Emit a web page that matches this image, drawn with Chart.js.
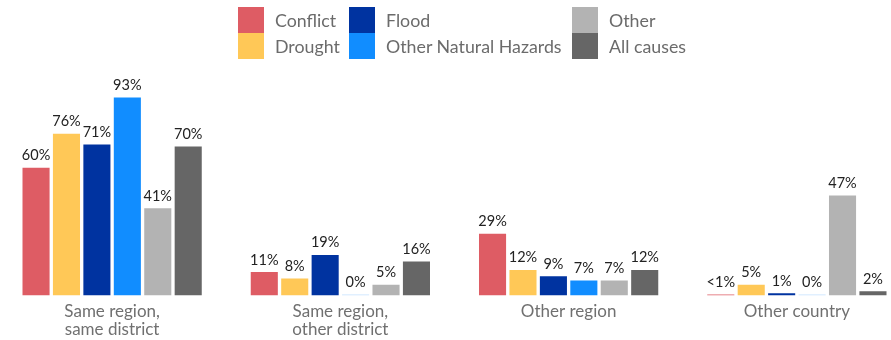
<!DOCTYPE html>
<html>
<head>
<meta charset="utf-8">
<script src="https://cdn.jsdelivr.net/npm/chart.js@4/dist/chart.umd.min.js"></script>
<style>
  html, body { margin: 0; padding: 0; background: #fff; overflow: hidden; }
  body { width: 891px; height: 340px; position: relative; font-family: Lato, "Open Sans", sans-serif; }
  #wrap { position: absolute; left: -2px; top: 0; width: 913px; height: 340px; }
  #legend { position: absolute; left: 0; top: 0; width: 891px; height: 70px; }
  .item { position: absolute; height: 26px; line-height: 26px; font-size: 17.8px; color: #6b6b6b; white-space: nowrap; }
  .item .sw { position: absolute; left: 0; top: 0; width: 26px; height: 26px; }
  .item .tx { position: absolute; left: 37px; top: 0; }
</style>
</head>
<body>
<div id="wrap"><canvas id="chart" width="913" height="340"></canvas></div>
<div id="legend"></div>
<script>
(() => {
  "use strict";

  // ── Data ──────────────────
  const categories = [
    ["Same region,", "same district"],
    ["Same region,", "other district"],
    "Other region",
    "Other country"
  ];
  const seriesNames = ["Conflict", "Drought", "Flood", "Other Natural Hazards", "Other", "All causes"];
  const conflict = [60, 11, 29, 0.5];
  const drought = [76, 8, 12, 5];
  const flood = [71, 19, 9, 1];
  const otherHazards = [93, 0, 7, 0];
  const other = [41, 5, 7, 47];
  const allCauses = [70, 16, 12, 2];

  // ── Colours ──────────────────
  const C = {
    conflict: "#DE5C64",
    drought: "#FFC857",
    flood: "#0033A0",
    hazards: "#118DFF",
    other: "#B3B3B3",
    all: "#666666",
    label: "#222222",
    axis: "#707070"
  };
  const seriesColors = [C.conflict, C.drought, C.flood, C.hazards, C.other, C.all];
  const seriesValues = [conflict, drought, flood, otherHazards, other, allCauses];

  // faint tint for zero-height bars
  const tint = (hex) => {
    const n = parseInt(hex.slice(1), 16);
    return `rgba(${n >> 16},${(n >> 8) & 255},${n & 255},0.25)`;
  };

  const fmtPct = (v) => (v > 0 && v < 1) ? "<1%" : Math.round(v) + "%";

  // value labels above each bar
  const valueLabels = {
    id: "valueLabels",
    afterDatasetsDraw(chart) {
      const ctx = chart.ctx;
      ctx.save();
      ctx.font = "14.5px Lato, 'Open Sans', sans-serif";
      ctx.fillStyle = C.label;
      ctx.textAlign = "center";
      ctx.textBaseline = "bottom";
      chart.data.datasets.forEach((ds, i) => {
        chart.getDatasetMeta(i).data.forEach((bar, j) => {
          ctx.fillText(fmtPct(ds.data[j]), bar.x, bar.y - 5);
        });
      });
      ctx.restore();
    }
  };

  new Chart(document.getElementById("chart"), {
    type: "bar",
    data: {
      labels: categories,
      datasets: seriesNames.map((name, i) => ({
        label: name,
        data: seriesValues[i],
        backgroundColor: (c) => c.raw === 0 ? tint(seriesColors[i]) : seriesColors[i],
        minBarLength: 1,
        categoryPercentage: 0.8,
        barPercentage: 0.89
      }))
    },
    options: {
      responsive: false,
      animation: false,
      layout: { padding: { top: 82.7, left: 0, right: 0, bottom: 0 } },
      plugins: { legend: { display: false }, tooltip: { enabled: false } },
      scales: {
        x: {
          grid: { display: false, drawTicks: false },
          border: { display: false },
          ticks: {
            color: C.axis,
            padding: 7,
            font: { family: "Lato, 'Open Sans', sans-serif", size: 17, lineHeight: 1.06 }
          },
          afterFit: (s) => { s.height = 44.5; }
        },
        y: {
          display: false,
          min: 0,
          max: 100
        }
      }
    },
    plugins: [valueLabels]
  });

  // ── Legend (three columns, two rows) ──────────────────
  const legendPos = [
    { x: 238, y: 7 }, { x: 238, y: 33 },
    { x: 349, y: 7 }, { x: 349, y: 33 },
    { x: 572, y: 7 }, { x: 572, y: 33 }
  ];
  const legend = document.getElementById("legend");
  seriesNames.forEach((name, i) => {
    const el = document.createElement("div");
    el.className = "item";
    el.style.left = legendPos[i].x + "px";
    el.style.top = legendPos[i].y + "px";
    el.innerHTML = `<span class="sw" style="background:${seriesColors[i]}"></span><span class="tx">${name}</span>`;
    legend.appendChild(el);
  });
})();
</script>
</body>
</html>
